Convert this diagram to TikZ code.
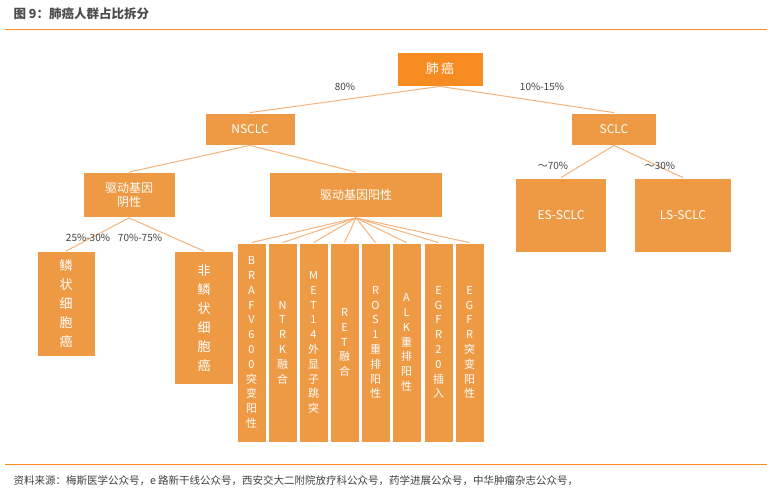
\documentclass[tikz,border=0pt]{standalone}
\usepackage{fontspec}
\setmainfont{Noto Sans CJK SC}
\begin{document}
\begin{tikzpicture}[x=1pt,y=-1pt,
 box/.style={fill=boxc,draw=white,line width=0.8pt,text=white,font=\fontsize{12}{14}\selectfont,align=center,inner sep=0pt},
 col/.style={box,font=\fontsize{11}{14.8}\selectfont},
 ln/.style={draw=linec,line width=1pt},
 lab/.style={font=\fontsize{10}{12}\selectfont,text=black!75}]
\definecolor{boxc}{HTML}{EE9A45}
\definecolor{topc}{HTML}{F68B21}
\definecolor{linec}{HTML}{F5B27A}
\useasboundingbox (0,0) rectangle (771,496);
\node[anchor=west,font=\fontsize{12.5}{14}\selectfont\bfseries,text=black!70] (title) at (10,14) {图 9：肺癌人群占比拆分};
\draw[topc,line width=1pt] (5,29) -- (767,29);
\node[box,fill=topc,minimum width=86,minimum height=34,font=\fontsize{13}{15}\selectfont] (root) at (440,69) {肺\,癌};
\node[box,minimum width=90,minimum height=32] (ns) at (250,129) {NSCLC};
\node[box,minimum width=85,minimum height=32] (sc) at (614,129) {SCLC};
\node[box,minimum width=92,minimum height=45] (neg) at (129,195) {驱动基因\\阴性};
\node[box,minimum width=173,minimum height=45] (pos) at (356,195) {驱动基因阳性};
\node[box,minimum width=91,minimum height=74] (es) at (561,215) {ES-SCLC};
\node[box,minimum width=97,minimum height=74] (ls) at (683,215) {LS-SCLC};
\node[box,minimum width=58,minimum height=105,font=\fontsize{13}{19}\selectfont] (sq) at (66,304) {鳞\\状\\细\\胞\\癌};
\node[box,minimum width=59,minimum height=133,font=\fontsize{13}{19}\selectfont] (nsq) at (204,318) {非\\鳞\\状\\细\\胞\\癌};
\foreach \i/\x/\t in {1/251.5/{B\\R\\A\\F\\V\\6\\0\\0\\突\\变\\阳\\性},2/282.5/{N\\T\\R\\K\\融\\合},3/313.5/{M\\E\\T\\1\\4\\外\\显\\子\\跳\\突},4/344.5/{R\\E\\T\\融\\合},5/375.5/{R\\O\\S\\1\\重\\排\\阳\\性},6/406.5/{A\\L\\K\\重\\排\\阳\\性},7/438.5/{E\\G\\F\\R\\2\\0\\插\\入},8/469.5/{E\\G\\F\\R\\突\\变\\阳\\性}}{
 \node[col,minimum width=29,minimum height=199] (c\i) at (\x,342.5) {\t};
 \draw[ln] (pos.south) -- (c\i.north);
}
\draw[ln] (root.south) -- (ns.north);
\draw[ln] (root.south) -- (sc.north);
\draw[ln] (ns.south) -- (neg.north);
\draw[ln] (ns.south) -- (pos.north);
\draw[ln] (sc.south) -- (es.north);
\draw[ln] (sc.south) -- (ls.north);
\draw[ln] (neg.south) -- (sq.north);
\draw[ln] (neg.south) -- (nsq.north);
\node[lab] (l1) at (345,87) {80\%};
\node[lab] (l2) at (542,87) {10\%-15\%};
\node[lab] (l3) at (553,166) {～70\%};
\node[lab] (l4) at (660,166) {～30\%};
\node[lab] (l5) at (88,238) {25\%-30\%};
\node[lab] (l6) at (140,238) {70\%-75\%};
\draw[topc,line width=1pt] (5,464) -- (767,464);
\node[anchor=west,font=\fontsize{10.5}{12}\selectfont,text=black!75] (src) at (10,481) {资料来源：梅斯医学公众号，e 路新干线公众号，西安交大二附院放疗科公众号，药学进展公众号，中华肿瘤杂志公众号，};
\end{tikzpicture}
\end{document}
